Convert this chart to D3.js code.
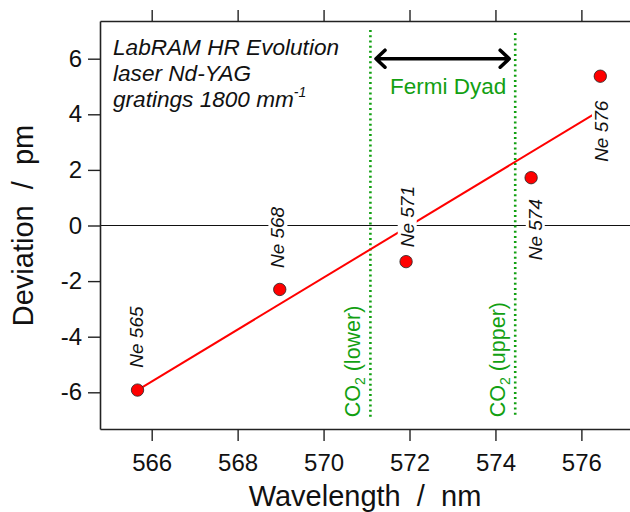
<!DOCTYPE html>
<html>
<head>
<meta charset="utf-8">
<script src="https://cdn.jsdelivr.net/npm/d3@7"></script>
<style>
  html, body { margin: 0; padding: 0; background: #fff; }
  svg { display: block; font-family: "Liberation Sans", Arial, sans-serif; }
</style>
</head>
<body>
<svg id="chart" width="630" height="512"></svg>
<script>
// Neon calibration lines and their measured deviation
const lineNames   = ["Ne 565", "Ne 568", "Ne 571", "Ne 574", "Ne 576"];
const wavelengths = [565.67, 568.98, 571.92, 574.83, 576.44];
const deviations  = [-5.92, -2.30, -1.30, 1.72, 5.37];

// Linear trend through the calibration points (end points)
const fitWavelengths = [565.67, 576.44];
const fitDeviations  = [-5.92, 4.14];

// CO2 Fermi dyad band positions
const co2Names       = ["lower", "upper"];
const co2Wavelengths = [571.09, 574.46];

// Axis ticks
const xTicks = [566, 568, 570, 572, 574, 576];
const yTicks = [-6, -4, -2, 0, 2, 4, 6];

// Instrument notes
const notes = ["LabRAM HR Evolution", "laser Nd-YAG", "gratings 1800 mm"];

// ---- layout ----
const svg = d3.select("#chart");
const plot = { left: 100, right: 640, top: 21, bottom: 429 };
const green = "#12a012";

const x = d3.scaleLinear().domain([564.797, 577.364]).range([plot.left, plot.right]);
const y = d3.scaleLinear().domain([-7.32, 7.356]).range([plot.bottom, plot.top]);

// Zero reference line
svg.append("line")
  .attr("x1", plot.left).attr("x2", plot.right)
  .attr("y1", y(0)).attr("y2", y(0))
  .attr("stroke", "#111").attr("stroke-width", 1.2);

// CO2 band markers (dotted verticals)
const co2Top = [7.03, 6.92];
svg.selectAll("line.co2").data(co2Wavelengths).join("line")
  .attr("class", "co2")
  .attr("x1", d => x(d)).attr("x2", d => x(d))
  .attr("y1", (d, i) => y(co2Top[i])).attr("y2", y(-6.9))
  .attr("stroke", green).attr("stroke-width", 2.6)
  .attr("stroke-dasharray", "2,3.2");

// Trend line
svg.append("line")
  .attr("x1", x(fitWavelengths[0])).attr("y1", y(fitDeviations[0]))
  .attr("x2", x(fitWavelengths[1])).attr("y2", y(fitDeviations[1]))
  .attr("stroke", "#ff0000").attr("stroke-width", 2);

// Calibration points
svg.selectAll("circle.pt").data(wavelengths).join("circle")
  .attr("class", "pt")
  .attr("cx", d => x(d)).attr("cy", (d, i) => y(deviations[i]))
  .attr("r", 6.2)
  .attr("fill", "#ff0000").attr("stroke", "#222").attr("stroke-width", 0.8);

// Rotated line labels on opaque boxes
const labelShift = [-53, -52, -45, 52, 55];
const labelNudge = [-1, -2, 1, 4, 1];
const lbl = svg.selectAll("g.nelabel").data(lineNames).join("g")
  .attr("class", "nelabel")
  .attr("transform", (d, i) =>
    `translate(${x(wavelengths[i]) + labelNudge[i]},${y(deviations[i]) + labelShift[i]}) rotate(-90)`);
lbl.append("rect").attr("fill", "#fff");
lbl.append("text")
  .attr("text-anchor", "middle")
  .attr("dy", "0.35em")
  .attr("font-size", 19)
  .attr("font-style", "italic")
  .attr("fill", "#111")
  .text(d => d);
lbl.each(function() {
  const g = d3.select(this);
  const b = g.select("text").node().getBBox();
  g.select("rect")
    .attr("x", b.x - 3).attr("y", b.y + 1)
    .attr("width", b.width + 6).attr("height", b.height - 2);
});

// CO2 labels
const co2Lbl = svg.selectAll("text.co2lbl").data(co2Names).join("text")
  .attr("class", "co2lbl")
  .attr("transform", (d, i) => `translate(${x(co2Wavelengths[i]) - 10},${y(-6.9)}) rotate(-90)`)
  .attr("font-size", 21.5)
  .attr("fill", green)
  .attr("text-anchor", "start");
co2Lbl.append("tspan").text("CO");
co2Lbl.append("tspan").attr("font-size", 14).attr("dy", 5).text("2");
co2Lbl.append("tspan").attr("dy", -5).text(d => ` (${d})`);

// Fermi dyad double arrow
const arrowX = [571.22, 574.32];
const arrowY = 6;
const ax0 = x(arrowX[0]), ax1 = x(arrowX[1]), ay = y(arrowY);
svg.append("path")
  .attr("d", `M${ax0},${ay}H${ax1}M${ax0 + 9},${ay - 8.5}L${ax0},${ay}L${ax0 + 9},${ay + 8.5}` +
             `M${ax1 - 9},${ay - 8.5}L${ax1},${ay}L${ax1 - 9},${ay + 8.5}`)
  .attr("fill", "none").attr("stroke", "#000").attr("stroke-width", 3.6)
  .attr("stroke-linecap", "round").attr("stroke-linejoin", "round");
svg.append("text")
  .attr("x", x(572.9)).attr("y", y(4.72))
  .attr("text-anchor", "middle")
  .attr("font-size", 22.5)
  .attr("fill", green)
  .text("Fermi Dyad");

// Axes (plain hyphen for negative numbers)
const plainNum = d => String(d);
const axisBottom = d3.axisBottom(x).tickValues(xTicks).tickSize(12).tickSizeOuter(0)
  .tickPadding(13).tickFormat(plainNum);
const axisTop = d3.axisTop(x).tickValues(xTicks).tickSize(11).tickSizeOuter(0).tickFormat("");
const axisLeft = d3.axisLeft(y).tickValues(yTicks).tickSize(12).tickSizeOuter(0)
  .tickPadding(6).tickFormat(plainNum);

function styleAxis(g, fs) {
  g.select(".domain").attr("stroke", "#222").attr("stroke-width", 1.6);
  g.selectAll(".tick line").attr("stroke", "#222").attr("stroke-width", 1.4);
  g.selectAll(".tick text").attr("font-size", fs).attr("fill", "#111")
    .attr("font-family", "'Liberation Sans', Arial, sans-serif");
}
svg.append("g").attr("transform", `translate(0,${plot.bottom})`).call(axisBottom).call(g => styleAxis(g, 24));
svg.append("g").attr("transform", `translate(0,${plot.top})`).call(axisTop).call(g => styleAxis(g, 24));
svg.append("g").attr("transform", `translate(${plot.left},0)`).call(axisLeft).call(g => styleAxis(g, 24));

// Axis titles
svg.append("text")
  .attr("x", (plot.left + 630) / 2).attr("y", 506)
  .attr("text-anchor", "middle").attr("font-size", 29).attr("fill", "#111")
  .style("white-space", "pre")
  .text("Wavelength  /  nm");
svg.append("text")
  .attr("transform", `translate(33,${y(0)}) rotate(-90)`)
  .attr("text-anchor", "middle").attr("font-size", 29).attr("fill", "#111")
  .style("white-space", "pre")
  .text("Deviation  /  pm");

// Instrument notes
const noteBase = [55, 81, 107];
const noteText = svg.selectAll("text.note").data(notes).join("text")
  .attr("class", "note")
  .attr("x", 113).attr("y", (d, i) => noteBase[i])
  .attr("font-size", 22.6).attr("font-style", "italic").attr("fill", "#111")
  .text(d => d);
noteText.filter((d, i) => i === 2).append("tspan")
  .attr("font-size", 14).attr("dy", -10).text("-1");
</script>
</body>
</html>
